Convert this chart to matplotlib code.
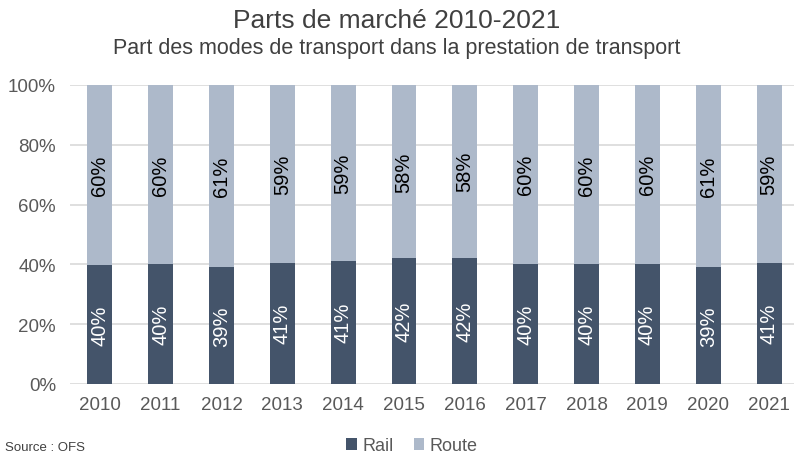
import matplotlib.pyplot as plt
import numpy as np

plt.rcParams['font.family'] = ['Liberation Sans', 'DejaVu Sans']

# données (parts en %)
annees = ['2010', '2011', '2012', '2013', '2014', '2015', '2016', '2017', '2018', '2019', '2020', '2021']
rail = [39.7, 40.0, 39.2, 40.6, 41.3, 42.0, 42.3, 40.3, 40.0, 40.3, 39.2, 40.6]
route = [60.3, 60.0, 60.8, 59.4, 58.7, 58.0, 57.7, 59.7, 60.0, 59.7, 60.8, 59.4]

c_rail = '#44546a'
c_route = '#adb9ca'
c_txt = '#595959'

fig = plt.figure(figsize=(7.94, 4.56), dpi=100)
ax = fig.add_axes([70/794, 71/456, 724/794, 299/456])

x = np.arange(len(annees))
w = 0.41
b1 = ax.bar(x, rail, w, color=c_rail, label='Rail', zorder=3)
b2 = ax.bar(x, route, w, bottom=rail, color=c_route, label='Route', zorder=3)

for i in range(len(annees)):
    ax.text(x[i], rail[i]/2, '%d%%' % round(rail[i]), rotation=90, ha='center', va='center',
            color='white', fontsize=14.5, zorder=4)
    ax.text(x[i], rail[i] + route[i]/2, '%d%%' % round(route[i]), rotation=90, ha='center', va='center',
            color='black', fontsize=14.5, zorder=4)

ax.set_xlim(-0.49, 11.41)
ax.set_ylim(0, 100)
ax.set_yticks([0, 20, 40, 60, 80, 100])
ax.set_yticklabels(['0%', '20%', '40%', '60%', '80%', '100%'])
ax.set_xticks(x)
ax.set_xticklabels(annees)
ax.tick_params(length=0, labelsize=13.5, colors=c_txt, pad=9)
ax.tick_params(axis='y', pad=10)
ax.grid(axis='y', color='#d9d9d9', lw=1.2, zorder=0)
for s in ax.spines.values():
    s.set_visible(False)

fig.text(0.5, 1 - 21/456, 'Parts de marché 2010-2021', ha='center', va='center', fontsize=19, color='#404040')
fig.text(0.5, 1 - 49/456, 'Part des modes de transport dans la prestation de transport', ha='center', va='center',
         fontsize=15.5, color='#404040')

leg = fig.legend(loc='center', bbox_to_anchor=(412/794, 1 - 447/456), ncol=2, frameon=False,
                 fontsize=13, handlelength=0.6, handleheight=0.6, handletextpad=0.3, columnspacing=1.1)
for t in leg.get_texts():
    t.set_color(c_txt)

fig.text(5/794, 2/456, 'Source : OFS', ha='left', va='bottom', fontsize=9.5, color='#404040')

fig.savefig('out.png', dpi=100)
